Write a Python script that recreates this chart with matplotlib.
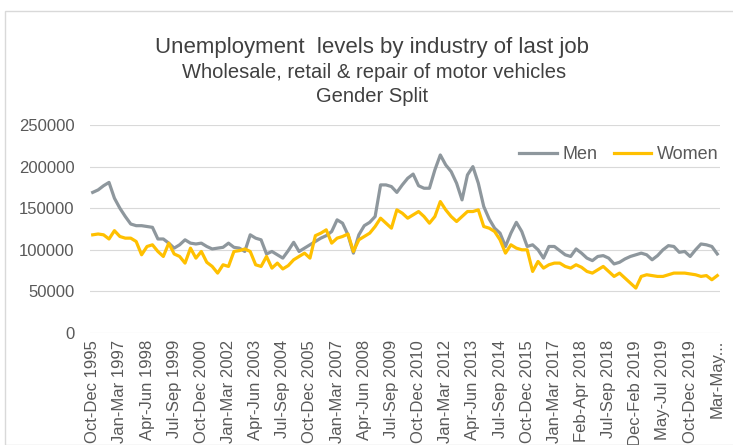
import numpy as np
import matplotlib
matplotlib.use('Agg')
import matplotlib.pyplot as plt
from matplotlib.patches import Rectangle

# rolling 3-month periods: quarterly up to Jan-Mar 2018, then monthly
months = ['Jan', 'Feb', 'Mar', 'Apr', 'May', 'Jun', 'Jul', 'Aug', 'Sep', 'Oct', 'Nov', 'Dec']
periods = ['Oct-Dec 1995']
for yr in range(1996, 2018):
    for m in (0, 3, 6, 9):
        periods.append('%s-%s %d' % (months[m], months[m + 2], yr))
periods.append('Jan-Mar 2018')
m, yr = 1, 2018
while len(periods) < 116:
    end = m + 2
    periods.append('%s-%s %d' % (months[m], months[end % 12], yr + end // 12))
    m += 1
    if m == 12:
        m, yr = 0, yr + 1

men = [169000, 172000, 177000, 181000, 162000, 150000, 140000, 131000, 129000, 129000,
       128000, 127000, 113000, 113000, 108000, 102000, 106000, 112000, 108000, 107000,
       108000, 104000, 101000, 102000, 103000, 108000, 103000, 102000, 98000, 118000,
       114000, 112000, 95000, 98000, 94000, 90000, 99000, 109000, 98000, 102000,
       106000, 110000, 114000, 117000, 122000, 136000, 132000, 118000, 96000, 118000,
       129000, 133000, 140000, 178000, 178000, 176000, 169000, 178000, 186000, 191000,
       177000, 174000, 174000, 196000, 214000, 202000, 194000, 180000, 160000, 190000,
       200000, 180000, 152000, 137000, 126000, 120000, 104000, 120000, 133000, 122000,
       104000, 106000, 100000, 90000, 104000, 104000, 99000, 94000, 92000, 101000,
       96000, 90000, 87000, 92000, 93000, 90000, 83000, 85000, 89000, 92000,
       94000, 96000, 94000, 88000, 93000, 100000, 105000, 104000, 97000, 98000,
       92000, 100000, 107000, 106000, 104000, 95000]

women = [118000, 119000, 118000, 113000, 123000, 116000, 114000, 114000, 110000, 94000,
         104000, 106000, 98000, 92000, 108000, 95000, 92000, 84000, 102000, 90000,
         98000, 85000, 80000, 72000, 82000, 80000, 98000, 99000, 101000, 98000,
         82000, 80000, 92000, 78000, 84000, 77000, 81000, 88000, 92000, 96000,
         90000, 117000, 120000, 124000, 108000, 114000, 116000, 119000, 98000, 112000,
         116000, 120000, 128000, 138000, 132000, 126000, 148000, 144000, 138000, 142000,
         146000, 140000, 132000, 140000, 158000, 148000, 140000, 134000, 140000, 146000,
         146000, 148000, 128000, 126000, 122000, 112000, 96000, 106000, 102000, 100000,
         100000, 74000, 86000, 78000, 82000, 84000, 84000, 80000, 78000, 82000,
         79000, 74000, 72000, 76000, 80000, 74000, 68000, 72000, 66000, 60000,
         54000, 68000, 70000, 69000, 68000, 68000, 70000, 72000, 72000, 72000,
         71000, 70000, 68000, 69000, 64000, 69000]

plt.rcParams['font.family'] = ['Liberation Sans', 'DejaVu Sans']

fig = plt.figure(figsize = (7.33, 4.45), dpi = 100)
fig.patches.append(Rectangle((5 / 733.0, 0.0), 1.0, 1 - 11 / 445.0, transform = fig.transFigure,
                             fill = False, edgecolor = '#d9d9d9', linewidth = 1.0))
ax = fig.add_axes([90 / 733.0, 1 - 333 / 445.0, 630 / 733.0, 208 / 445.0])

x = np.arange(len(periods))
ax.plot(x, men, color = '#8e979d', lw = 2.3, label = 'Men', solid_joinstyle = 'round')
ax.plot(x, women, color = '#ffc000', lw = 2.3, label = 'Women', solid_joinstyle = 'round')

ax.set_xlim(-0.5, len(periods) - 0.5)
ax.set_ylim(0, 250000)
ax.set_yticks(np.arange(0, 250001, 50000))
ax.set_yticklabels(['%d' % v for v in np.arange(0, 250001, 50000)], color = '#595959', fontsize = 12)
ax.grid(axis = 'y', color = '#d9d9d9', lw = 0.8)
ax.set_axisbelow(True)
for s in ax.spines.values():
    s.set_visible(False)
ax.tick_params(axis = 'both', length = 0)
ax.tick_params(axis = 'y', pad = 11)
ax.tick_params(axis = 'x', pad = 5)

ticks = x[::5]
labels = [periods[i] for i in ticks]
labels[-1] = 'Mar-May...'
ax.set_xticks(ticks)
ax.set_xticklabels(labels, rotation = 90, color = '#595959', fontsize = 12)

lg = ax.legend(loc = 'center right', bbox_to_anchor = (0.997, 0.856), ncol = 2, frameon = False,
               fontsize = 13, handlelength = 2.1, columnspacing = 0.9, handletextpad = 0.28,
               borderpad = 0, borderaxespad = 0)
for t in lg.get_texts():
    t.set_color('#595959')

fig.text(372 / 733.0, 1 - 47 / 445.0, 'Unemployment  levels by industry of last job', ha = 'center',
         va = 'center', fontsize = 16, color = '#404040')
fig.text(374 / 733.0, 1 - 73 / 445.0, 'Wholesale, retail & repair of motor vehicles', ha = 'center',
         va = 'center', fontsize = 14.5, color = '#404040')
fig.text(372 / 733.0, 1 - 96 / 445.0, 'Gender Split', ha = 'center',
         va = 'center', fontsize = 14.5, color = '#404040')

plt.savefig('out.png', dpi = 100)
